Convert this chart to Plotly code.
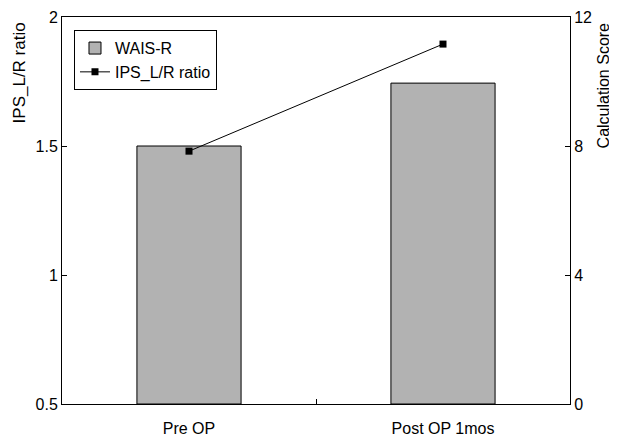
import plotly.graph_objects as go

categories = ["Pre OP", "Post OP 1mos"]
wais_r = [8.0, 9.95]          # bars, right axis (Calculation Score)
ips_ratio = [1.48, 1.895]     # line, left axis (IPS_L/R ratio)

left_ticks = [0.5, 1, 1.5, 2]
left_tick_text = ["0.5", "1", "1.5", "2"]
right_ticks = [0, 4, 8, 12]

left_title = "IPS_L/R ratio"
right_title = "Calculation Score"

font_family = "Liberation Sans, Arial, sans-serif"

fig = go.Figure()
fig.add_trace(go.Bar(
    x=categories, y=wais_r, name="WAIS-R", yaxis="y",
    marker=dict(color="#b2b2b2", line=dict(color="black", width=1)),
))
fig.add_trace(go.Scatter(
    x=categories, y=ips_ratio, name="IPS_L/R ratio", yaxis="y2",
    mode="lines+markers",
    line=dict(color="black", width=1),
    marker=dict(symbol="square", size=7, color="black"),
))

fig.update_layout(
    width=609, height=431,
    margin=dict(l=54, r=47, t=9, b=35, autoexpand=False),
    paper_bgcolor="white", plot_bgcolor="white",
    font=dict(family=font_family, color="black", size=15),
    bargap=0.59,
    showlegend=True,
    legend=dict(
        x=0.0236, y=0.966, xanchor="left", yanchor="top",
        bordercolor="black", borderwidth=1, bgcolor="white",
        font=dict(size=16), tracegroupgap=0, traceorder="normal",
    ),
    xaxis=dict(
        type="category", showline=True, linecolor="black", linewidth=1,
        mirror=True, ticks="inside", ticklen=5, tickson="boundaries",
        tickcolor="black", showgrid=False, ticklabelstandoff=10,
        tickfont=dict(size=16), automargin=False,
    ),
    yaxis=dict(
        side="right", range=[0, 12], tickvals=right_ticks,
        showline=True, linecolor="black", linewidth=1,
        ticks="inside", ticklen=5, tickcolor="black", showgrid=False,
        zeroline=False, tickfont=dict(size=16), automargin=False,
    ),
    yaxis2=dict(
        overlaying="y", side="left", range=[0.5, 2], tickvals=left_ticks,
        ticktext=left_tick_text,
        showline=True, linecolor="black", linewidth=1,
        ticks="inside", ticklen=5, tickcolor="black", showgrid=False,
        zeroline=False, tickfont=dict(size=16), automargin=False,
    ),
    annotations=[
        dict(text=left_title, textangle=-90, xref="paper", yref="paper",
             x=-0.083, y=0.992, xanchor="center", yanchor="top",
             showarrow=False, font=dict(size=17)),
        dict(text=right_title, textangle=-90, xref="paper", yref="paper",
             x=1.066, y=0.99, xanchor="center", yanchor="top",
             showarrow=False, font=dict(size=16)),
    ],
)

fig.write_html("out.html")
